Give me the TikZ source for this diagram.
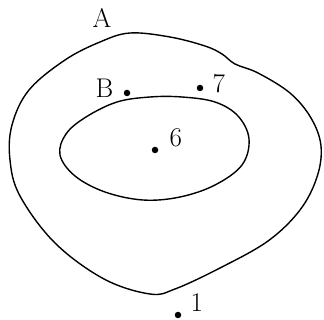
\documentclass[tikz,border=0pt]{standalone}
\usepackage{fontspec}
\usetikzlibrary{
positioning
}
\tikzset{
region/.style={
line width=1.4pt
},
dotpt/.style={
circle,
fill,
inner sep=0pt,
minimum size=6.5pt
},
lbl/.style={
inner sep=0pt,
font=\fontsize{27}{32}\selectfont
}
}
\begin{document}
\begin{tikzpicture}[x=1pt,y=-1pt,node distance=4pt]

\useasboundingbox (0,0) rectangle (324,320);

% outer region A
\draw[region] plot[smooth cycle,tension=0.6] coordinates {
(130,33) (170,37) (205,46) (222,54) (235,64) (258,73) (290,93)
(311,118) (321,146) (317,177) (300,210) (268,241) (220,268)
(175,289) (150,294) (104,279) (55,243) (20,196) (10,160)
(12,125) (29,90) (65,60) (100,42)};

% inner region
\draw[region] plot[smooth cycle,tension=0.6] coordinates {
(117,102) (150,97) (182,97) (215,102) (238,116) (249,139)
(242,165) (215,185) (180,197) (143,200) (105,192) (75,176)
(60,155) (66,134) (86,117)};

% points
\node[dotpt] (pB) at (127,93) {};
\node[dotpt] (p7) at (200,88) {};
\node[dotpt] (p6) at (155,150) {};
\node[dotpt] (p1) at (178,315) {};

% labels
\node[lbl] (lA) at (102,18) {A};
\node[lbl, left=10pt of pB, yshift=5pt] (lB) {B};
\node[lbl, right=9pt of p7, yshift=4pt] (l7) {7};
\node[lbl, right=11pt of p6, yshift=12pt] (l6) {6};
\node[lbl, right=9pt of p1, yshift=12pt] (l1) {1};

\end{tikzpicture}
\end{document}
